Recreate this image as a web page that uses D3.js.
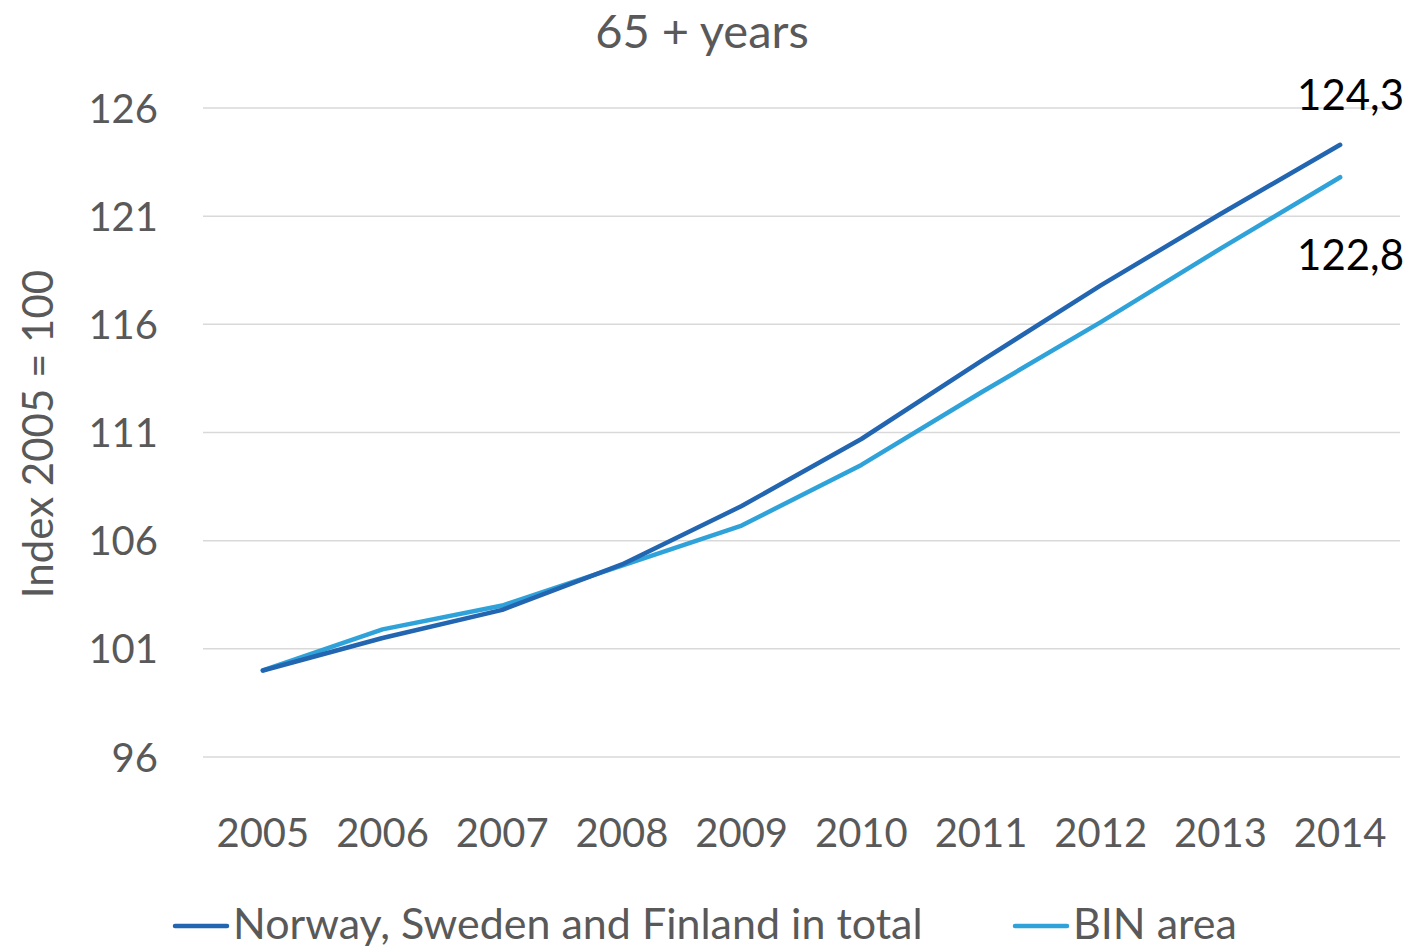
<!DOCTYPE html>
<html><head><meta charset="utf-8">
<script src="https://cdn.jsdelivr.net/npm/d3@7/dist/d3.min.js"></script>
<style>body{margin:0;background:#fff}svg{display:block}</style>
</head><body>
<svg id="c" width="1410" height="949"></svg>
<script>
const years = ["2005","2006","2007","2008","2009","2010","2011","2012","2013","2014"];
const nordic = [100, 101.5, 102.8, 104.9, 107.6, 110.7, 114.3, 117.8, 121.1, 124.3];
const bin = [100, 101.9, 103.0, 104.85, 106.7, 109.5, 112.85, 116.1, 119.5, 122.8];
const yTicks = [96, 101, 106, 111, 116, 121, 126];
const seriesNames = ["Norway, Sweden and Finland in total", "BIN area"];
const colors = ["#2265b0", "#2fa3d9"];

const svg = d3.select("#c");
const font = "Lato, 'Open Sans', sans-serif";
const gray = "#595959";
const x = d3.scaleBand().domain(years).range([203, 1400]);
const y = d3.scaleLinear().domain([96, 126]).range([757, 108]);

// gridlines
svg.append("g").selectAll("line").data(yTicks).join("line")
  .attr("x1", 203).attr("x2", 1400)
  .attr("y1", d => y(d)).attr("y2", d => y(d))
  .attr("stroke", "#d9d9d9").attr("stroke-width", 1.5);

// y axis
const ya = svg.append("g").attr("transform", "translate(203,0)")
  .call(d3.axisLeft(y).tickValues(yTicks).tickSize(0).tickPadding(45));
ya.select(".domain").remove();
ya.selectAll("text").attr("font-family", font).attr("font-size", 40).attr("fill", gray).attr("dy", "0.35em");

// x axis
const xa = svg.append("g").attr("transform", "translate(0,757)")
  .call(d3.axisBottom(x).tickSize(0).tickPadding(62));
xa.select(".domain").remove();
xa.selectAll("text").attr("font-family", font).attr("font-size", 40).attr("fill", gray).attr("dy", "0.71em");

// title
svg.append("text").attr("x", 702).attr("y", 48).attr("text-anchor", "middle")
  .attr("font-family", font).attr("font-size", 47).attr("fill", gray).text("65 + years");

// y title
svg.append("text").attr("transform", "translate(53,434) rotate(-90)").attr("text-anchor", "middle")
  .attr("font-family", font).attr("font-size", 42).attr("fill", gray).text("Index 2005 = 100");

// lines
const line = d3.line().x((d, i) => x(years[i]) + x.bandwidth() / 2).y(d => y(d));
[bin, nordic].forEach((s, k) => {
  const ci = k === 0 ? 1 : 0;
  svg.append("path").datum(s).attr("d", line).attr("fill", "none")
    .attr("stroke", colors[ci]).attr("stroke-width", 4.5)
    .attr("stroke-linejoin", "round").attr("stroke-linecap", "round");
});

// end labels
const fmt = v => v.toFixed(1).replace(".", ",");
svg.append("text").attr("x", 1404).attr("y", 110).attr("text-anchor", "end")
  .attr("font-family", font).attr("font-size", 42).attr("fill", "#000").text(fmt(nordic[nordic.length - 1]));
svg.append("text").attr("x", 1404).attr("y", 270).attr("text-anchor", "end")
  .attr("font-family", font).attr("font-size", 42).attr("fill", "#000").text(fmt(bin[bin.length - 1]));

// legend
const legX = [175, 1015];
seriesNames.forEach((n, i) => {
  svg.append("line").attr("x1", legX[i]).attr("x2", legX[i] + 52).attr("y1", 926).attr("y2", 926)
    .attr("stroke", colors[i]).attr("stroke-width", 4.5).attr("stroke-linecap", "round");
  svg.append("text").attr("x", legX[i] + 58).attr("y", 939)
    .attr("font-family", font).attr("font-size", 43).attr("fill", gray).text(n);
});
</script>
</body></html>
